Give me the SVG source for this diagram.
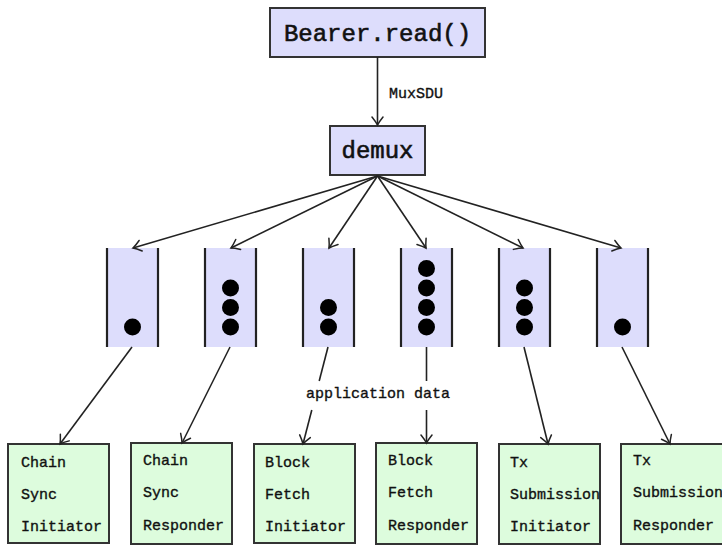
<svg xmlns="http://www.w3.org/2000/svg" width="722" height="546" viewBox="0 0 722 546">
<defs>
<marker id="arr" markerUnits="userSpaceOnUse" markerWidth="14" markerHeight="14" viewBox="-10 -7 14 14" refX="0" refY="0" orient="auto">
<path d="M-8,-5.5 Q-3,-1.5 0,0 Q-3,1.5 -8,5.5" fill="none" stroke="#222" stroke-width="1.5" stroke-linecap="round"/>
</marker>
</defs>
<style>
.top{fill:#ddddfc;stroke:#333;stroke-width:2}
.q{fill:#ddddfc;stroke:none}
.qe{stroke:#222;stroke-width:2.2}
.dot{fill:#000}
.box{fill:#ddfcdd;stroke:#333;stroke-width:2}
.big{font-family:"Liberation Mono",monospace;font-size:24px;fill:#111;stroke:#111;stroke-width:0.6;text-anchor:middle}
.sm{font-family:"Liberation Mono",monospace;font-size:15px;fill:#111;stroke:#111;stroke-width:0.35}
.c{stroke:#222;stroke-width:1.6;fill:none}
.ca{stroke:#222;stroke-width:1.6;fill:none;marker-end:url(#arr)}
</style>
<rect width="722" height="546" fill="#fff"/>
<g id="bearer">
<rect class="top" x="270" y="8" width="215" height="49"/>
<text class="big" x="377.5" y="41">Bearer.read()</text>
</g>
<g id="demux">
<rect class="top" x="330" y="126" width="95" height="49"/>
<text class="big" x="377.5" y="158">demux</text>
</g>
<g id="queue1">
<rect class="q" x="107" y="248" width="51" height="99"/>
<line class="qe" x1="107" y1="248" x2="107" y2="347"/><line class="qe" x1="158" y1="248" x2="158" y2="347"/>
<circle class="dot" cx="132.5" cy="327" r="8.5"/>
</g>
<g id="queue2">
<rect class="q" x="205" y="248" width="51" height="99"/>
<line class="qe" x1="205" y1="248" x2="205" y2="347"/><line class="qe" x1="256" y1="248" x2="256" y2="347"/>
<circle class="dot" cx="230.5" cy="327" r="8.5"/>
<circle class="dot" cx="230.5" cy="307.5" r="8.5"/>
<circle class="dot" cx="230.5" cy="288" r="8.5"/>
</g>
<g id="queue3">
<rect class="q" x="303" y="248" width="51" height="99"/>
<line class="qe" x1="303" y1="248" x2="303" y2="347"/><line class="qe" x1="354" y1="248" x2="354" y2="347"/>
<circle class="dot" cx="328.5" cy="327" r="8.5"/>
<circle class="dot" cx="328.5" cy="307.5" r="8.5"/>
</g>
<g id="queue4">
<rect class="q" x="401" y="248" width="51" height="99"/>
<line class="qe" x1="401" y1="248" x2="401" y2="347"/><line class="qe" x1="452" y1="248" x2="452" y2="347"/>
<circle class="dot" cx="426.5" cy="327" r="8.5"/>
<circle class="dot" cx="426.5" cy="307.5" r="8.5"/>
<circle class="dot" cx="426.5" cy="288" r="8.5"/>
<circle class="dot" cx="426.5" cy="268.5" r="8.5"/>
</g>
<g id="queue5">
<rect class="q" x="499" y="248" width="51" height="99"/>
<line class="qe" x1="499" y1="248" x2="499" y2="347"/><line class="qe" x1="550" y1="248" x2="550" y2="347"/>
<circle class="dot" cx="524.5" cy="327" r="8.5"/>
<circle class="dot" cx="524.5" cy="307.5" r="8.5"/>
<circle class="dot" cx="524.5" cy="288" r="8.5"/>
</g>
<g id="queue6">
<rect class="q" x="597" y="248" width="51" height="99"/>
<line class="qe" x1="597" y1="248" x2="597" y2="347"/><line class="qe" x1="648" y1="248" x2="648" y2="347"/>
<circle class="dot" cx="622.5" cy="327" r="8.5"/>
</g>
<g id="chainSyncInitiator">
<rect class="box" x="8" y="444" width="101" height="99"/>
<text class="sm" x="21" y="467">Chain</text>
<text class="sm" x="21" y="499">Sync</text>
<text class="sm" x="21" y="531">Initiator</text>
</g>
<g id="chainSyncResponder">
<rect class="box" x="131" y="443" width="101" height="101"/>
<text class="sm" x="143" y="465">Chain</text>
<text class="sm" x="143" y="497">Sync</text>
<text class="sm" x="143" y="530">Responder</text>
</g>
<g id="blockFetchInitiator">
<rect class="box" x="254" y="444" width="101" height="99"/>
<text class="sm" x="265" y="467">Block</text>
<text class="sm" x="265" y="499">Fetch</text>
<text class="sm" x="265" y="531">Initiator</text>
</g>
<g id="blockFetchResponder">
<rect class="box" x="376" y="443" width="101" height="101"/>
<text class="sm" x="388" y="465">Block</text>
<text class="sm" x="388" y="497">Fetch</text>
<text class="sm" x="388" y="530">Responder</text>
</g>
<g id="txSubmissionInitiator">
<rect class="box" x="499" y="444" width="101" height="100"/>
<text class="sm" x="510" y="467">Tx</text>
<text class="sm" x="510" y="499">Submission</text>
<text class="sm" x="510" y="531">Initiator</text>
</g>
<g id="txSubmissionResponder">
<rect class="box" x="621" y="444" width="110" height="100"/>
<text class="sm" x="633" y="465">Tx</text>
<text class="sm" x="633" y="497">Submission</text>
<text class="sm" x="633" y="530">Responder</text>
</g>
<g id="connectors">
<line class="ca" x1="377.5" y1="57" x2="377.5" y2="125"/>
<text class="sm" x="389" y="98">MuxSDU</text>
<line class="ca" x1="377.5" y1="176" x2="133" y2="248"/>
<line class="ca" x1="377.5" y1="176" x2="231" y2="248"/>
<line class="ca" x1="377.5" y1="176" x2="329" y2="248"/>
<line class="ca" x1="377.5" y1="176" x2="426" y2="248"/>
<line class="ca" x1="377.5" y1="176" x2="523" y2="248"/>
<line class="ca" x1="377.5" y1="176" x2="621" y2="248"/>
<line class="ca" x1="132" y1="347" x2="60" y2="444"/>
<line class="ca" x1="230" y1="347" x2="182" y2="443"/>
<line class="c" x1="328" y1="347" x2="319.2" y2="381"/>
<line class="ca" x1="311.8" y1="410" x2="303" y2="444"/>
<line class="c" x1="426.5" y1="347" x2="426.5" y2="381"/>
<line class="ca" x1="426.5" y1="410" x2="426.5" y2="443"/>
<text class="sm" x="378" y="398" text-anchor="middle">application data</text>
<line class="ca" x1="524" y1="347" x2="548" y2="444"/>
<line class="ca" x1="622" y1="347" x2="670" y2="444"/>
</g>
</svg>
